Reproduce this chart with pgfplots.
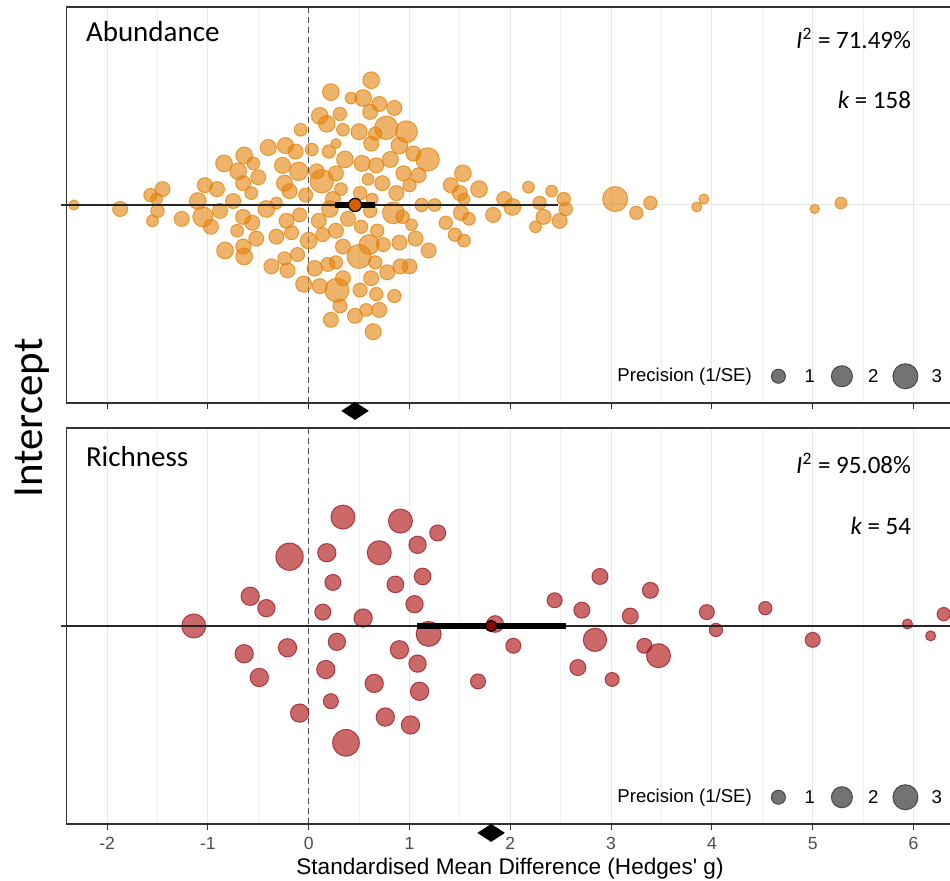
\documentclass[border=0pt]{standalone}
\usepackage{pgfplots}
\pgfplotsset{compat=1.18}
\usepackage{pgfplotstable}
\usepackage{fontspec}
\setmainfont{Carlito}
\newfontfamily\arial{Liberation Sans}

\definecolor{abfill}{RGB}{228,130,10}
\definecolor{abest}{RGB}{213,94,0}
\definecolor{rifill}{RGB}{178,34,34}
\definecolor{riedge}{RGB}{160,30,40}
\definecolor{riest}{RGB}{139,0,0}
\definecolor{border}{RGB}{51,51,51}

% Abundance: effect size g, jitter y, marker diameter d (px)
\pgfplotstableread{
g y d
0.62 0.63 16.7
0.22 0.57 16.7
0.42 0.54 11.7
0.54 0.54 16.7
0.70 0.51 15
0.61 0.47 15
0.85 0.49 15
0.11 0.45 16.7
0.31 0.46 13.3
0.18 0.41 16.7
0.34 0.38 12.7
-0.08 0.38 12.7
0.77 0.39 23.3
0.97 0.37 21.7
0.50 0.37 16
0.62 0.31 15
0.66 0.36 13.3
-0.40 0.29 16
-0.23 0.30 16
-0.13 0.27 15
0.03 0.28 12.7
0.20 0.27 13.3
0.27 0.31 10
0.90 0.30 16.7
1.04 0.26 15
1.18 0.23 23.3
-0.64 0.25 16.7
-0.55 0.21 12.7
-0.84 0.21 16.7
-0.70 0.17 16.7
-0.50 0.14 15
-0.26 0.20 16
-0.10 0.17 18.3
0.08 0.17 15
0.36 0.23 16.7
0.53 0.21 16
0.67 0.20 15
0.81 0.23 16
0.94 0.16 15
1.09 0.15 15
0.27 0.16 15
0.13 0.12 23.3
0.59 0.13 11.7
0.73 0.11 15
1.00 0.10 13.3
0.87 0.06 15
-0.65 0.11 15
-0.57 0.06 12.7
-0.24 0.11 16
-0.19 0.07 15
-0.03 0.05 14
0.32 0.08 12.7
0.51 0.06 13.3
0.63 0.03 11.7
-1.03 0.10 15
-0.91 0.08 15
-1.45 0.08 15
-1.57 0.05 13.3
-1.51 0.03 11.7
-2.33 0.00 10
-1.87 -0.02 15
-1.50 -0.03 13.3
-1.55 -0.08 11.7
-1.26 -0.07 15
-1.10 0.02 16.7
-1.05 -0.06 20
-0.97 -0.11 15
-0.88 -0.03 15
-0.75 0.02 15
-0.42 -0.02 16.7
-0.32 0.01 11.7
-0.22 -0.08 15
-0.17 -0.14 14
-0.32 -0.16 15
-0.09 -0.05 14
-0.65 -0.06 15
-0.56 -0.09 15
-0.71 -0.13 12.7
-0.52 -0.17 15
-0.83 -0.23 16.7
-0.65 -0.21 15
-0.64 -0.26 16.7
0.00 -0.18 16.7
0.10 -0.08 15
0.14 -0.15 14
0.27 -0.13 15
0.21 -0.02 16.7
0.39 -0.07 15
0.52 -0.11 13.3
0.61 -0.03 13.3
0.68 -0.13 13.3
0.84 -0.04 21.7
0.93 -0.06 13.3
1.02 -0.10 11.7
0.60 -0.20 20
0.50 -0.26 24
0.34 -0.21 15
0.74 -0.20 14
0.90 -0.19 15
1.06 -0.17 15
1.19 -0.23 15
-0.37 -0.31 15
-0.24 -0.27 13.3
-0.21 -0.33 15
-0.11 -0.25 14
0.06 -0.32 15.5
0.19 -0.30 14
0.27 -0.29 13.3
0.66 -0.29 13.3
0.78 -0.34 15
0.91 -0.31 15
1.00 -0.31 15
-0.05 -0.40 16
0.11 -0.41 15
0.28 -0.43 24
0.31 -0.51 14
0.34 -0.37 15
0.51 -0.43 14
0.67 -0.45 13.3
0.85 -0.46 13.3
0.46 -0.56 15
0.57 -0.53 12.7
0.70 -0.53 15
0.22 -0.58 15
0.64 -0.64 16
0.62 -0.37 15
0.24 0.03 15
1.12 0.00 13.3
1.25 0.00 12.7
1.53 0.16 16.7
1.41 0.10 15
1.50 0.06 15
1.54 0.03 11.7
1.69 0.08 16.7
1.94 0.03 15
2.02 -0.01 16.7
2.18 0.09 11.7
2.29 0.01 13.3
2.41 0.07 11.7
2.53 0.03 13.3
2.55 -0.02 13.3
2.33 -0.06 15
2.49 -0.08 15
2.25 -0.11 11.7
1.83 -0.05 15
1.51 -0.04 15
1.59 -0.07 12.7
1.36 -0.09 13.3
1.45 -0.15 13.3
1.54 -0.18 12.7
3.04 0.03 25
3.25 -0.04 13.3
3.39 0.01 13.3
3.85 -0.01 10
3.92 0.03 10
5.02 -0.02 9.3
5.28 0.01 11.7
}\abundance

% Richness: effect size g, jitter y, marker diameter d (px)
\pgfplotstableread{
g y d
0.34 0.55 24
0.91 0.53 24
1.28 0.47 16
1.08 0.41 17.3
-0.19 0.35 27.3
0.18 0.37 18.3
0.70 0.37 24
0.24 0.22 16
0.86 0.21 16.7
1.13 0.25 16.7
-0.58 0.15 18.3
-0.42 0.09 17.3
0.14 0.07 16
0.54 0.04 18.3
1.05 0.11 17.3
-1.14 0.00 24
1.19 -0.04 25
0.28 -0.08 17.3
-0.21 -0.11 18.3
-0.64 -0.14 18.3
0.90 -0.12 18.3
1.08 -0.19 17.3
0.17 -0.22 18.3
-0.49 -0.26 18.3
0.65 -0.29 18.3
1.10 -0.33 18.3
0.22 -0.38 15
-0.09 -0.44 18.3
0.76 -0.46 18.3
1.01 -0.50 18.3
0.37 -0.59 26.7
2.89 0.25 16
3.39 0.18 16
2.44 0.13 15
2.71 0.08 16
3.19 0.05 16
3.95 0.07 15
4.53 0.09 13.3
6.30 0.06 13.3
1.85 0.01 16.7
4.04 -0.02 13.3
5.94 0.01 10
6.17 -0.05 10
5.00 -0.07 15
2.03 -0.10 15
2.84 -0.07 23.3
3.33 -0.10 15
3.47 -0.15 24
2.67 -0.21 16
3.01 -0.27 14
1.68 -0.28 15
}\richness

% Size key: precision 1, 2, 3
\pgfplotstableread{
g y d
4.66 -0.865 14
5.29 -0.865 21
5.92 -0.865 25
}\sizekey

\tikzset{
  keytext/.style={font=\arial\fontsize{9.3}{11}\selectfont},
  txt/.style={inner sep=0pt, outer sep=0pt},
}

\pgfplotsset{
  panel/.style={
    scale only axis, width=441.67pt, height=198pt,
    xmin=-2.401, xmax=6.362, ymin=-1, ymax=1,
    clip=false,
  },
  orchard/.style={
    panel,
    axis line style={draw=none},
    xtick={-2,-1,0,1,2,3,4,5,6},
    minor xtick={-2.5,-1.5,-0.5,0.5,1.5,2.5,3.5,4.5,5.5,6.5},
    ytick={0}, yticklabels={},
    xmajorgrids, xminorgrids, ymajorgrids,
    major grid style={black!9, line width=0.5pt},
    minor grid style={black!6, line width=0.5pt},
    tick align=outside, major tick length=3pt, minor tick length=0pt,
    xtick pos=left, ytick pos=left,
    tick style={border, line width=0.55pt},
    xticklabel style={font=\arial\fontsize{8.8}{10}\selectfont, text=black!70},
  },
  % overlay holding the pooled estimate, drawn above the effect sizes
  summary/.style={panel, hide axis},
  % bubbles={<fill colour>}{<edge colour>}{<fill opacity>}{<edge opacity>}
  bubbles/.style n args={4}{scatter, only marks, mark=*,
    scatter/use mapped color={draw=#2, fill=#1},
    visualization depends on={0.25*\thisrow{d}\as\rad},
    scatter/@pre marker code/.append style={/tikz/mark size=\rad},
    mark options={fill opacity=#3, draw opacity=#4, line width=0.5pt}},
}

\begin{document}
\begin{tikzpicture}
\path[use as bounding box] (0,0) rectangle (475pt,440.5pt);

% ---------------- Abundance ----------------
\begin{axis}[orchard, at={(33.33pt,239pt)}, anchor=south west, xticklabels={}]
\addplot[black!70, dash pattern=on 3pt off 2pt, line width=0.5pt] coordinates {(0,-1) (0,1)};
\addplot[bubbles={abfill}{abfill}{0.6}{0.75}] table[x=g, y=y] {\abundance};
\addplot[only marks, mark=diamond*, mark size=4.25pt, mark options={xscale=2.04, fill=black, draw=black}] coordinates {(0.46,-1.04)};
\addplot[bubbles={black!55}{black!72}{1}{1}] table[x=g, y=y] {\sizekey};
\node[keytext] at (axis cs:3.73,-0.865) {Precision (1/SE)};
\node[keytext] at (axis cs:4.97,-0.865) {1};
\node[keytext] at (axis cs:5.60,-0.865) {2};
\node[keytext] at (axis cs:6.23,-0.865) {3};
\draw[border, line width=0.6pt] (rel axis cs:1,0) -- (rel axis cs:0,0) -- (rel axis cs:0,1) -- (rel axis cs:1,1);
\end{axis}
\begin{axis}[summary, at={(33.33pt,239pt)}, anchor=south west]
\addplot[black!85, line width=0.6pt] coordinates {(-2.401,0) (2.47,0)};
\addplot[black, line width=2.7pt] coordinates {(0.26,0) (0.66,0)};
\addplot[only marks, mark=*, mark size=3.3pt, mark options={fill=abest, draw=black, line width=0.6pt}] coordinates {(0.46,0)};
\end{axis}

% ---------------- Richness ----------------
\begin{axis}[orchard, at={(33.33pt,28.5pt)}, anchor=south west,
  xticklabels={-2,-1,0,1,2,3,4,5,6}]
\addplot[black!70, dash pattern=on 3pt off 2pt, line width=0.5pt] coordinates {(0,-1) (0,1)};
\addplot[bubbles={rifill}{riedge}{0.68}{0.8}] table[x=g, y=y] {\richness};
\addplot[only marks, mark=diamond*, mark size=4.25pt, mark options={xscale=2.04, fill=black, draw=black}] coordinates {(1.81,-1.045)};
\addplot[bubbles={black!55}{black!72}{1}{1}] table[x=g, y=y] {\sizekey};
\node[keytext] at (axis cs:3.73,-0.865) {Precision (1/SE)};
\node[keytext] at (axis cs:4.97,-0.865) {1};
\node[keytext] at (axis cs:5.60,-0.865) {2};
\node[keytext] at (axis cs:6.23,-0.865) {3};
\draw[border, line width=0.6pt] (rel axis cs:1,0) -- (rel axis cs:0,0) -- (rel axis cs:0,1) -- (rel axis cs:1,1);
\end{axis}
\begin{axis}[summary, at={(33.33pt,28.5pt)}, anchor=south west]
\addplot[black!85, line width=0.6pt] coordinates {(-2.401,0) (6.362,0)};
\addplot[black, line width=2.7pt] coordinates {(1.07,0) (2.55,0)};
\addplot[only marks, mark=*, mark size=2.8pt, mark options={fill=riest, draw=black, line width=0.6pt}] coordinates {(1.81,0)};
\end{axis}

% panel titles and statistics
\node[txt, anchor=base west, font=\fontsize{14.5}{16}\selectfont] at (43pt,419.7pt) {Abundance};
\node[txt, anchor=base east, font=\fontsize{12.5}{14}\selectfont] at (455.5pt,416.3pt) {{\itshape I}\textsuperscript{2} = 71.49\%};
\node[txt, anchor=base east, font=\fontsize{12.5}{14}\selectfont] at (455.5pt,386.3pt) {{\itshape k} = 158};
\node[txt, anchor=base west, font=\fontsize{14.5}{16}\selectfont] at (43pt,207.2pt) {Richness};
\node[txt, anchor=base east, font=\fontsize{12.5}{14}\selectfont] at (455.5pt,203.8pt) {{\itshape I}\textsuperscript{2} = 95.08\%};
\node[txt, anchor=base east, font=\fontsize{12.5}{14}\selectfont] at (455.5pt,173.3pt) {{\itshape k} = 54};

% shared axis titles
\node[txt, rotate=90, anchor=base, font=\fontsize{21.5}{24}\selectfont] at (21pt,231.5pt) {Intercept};
\node[txt, anchor=base, font=\arial\fontsize{11.3}{13}\selectfont] at (255pt,3pt) {Standardised Mean Difference (Hedges\textquotesingle\ g)};
\end{tikzpicture}
\end{document}
